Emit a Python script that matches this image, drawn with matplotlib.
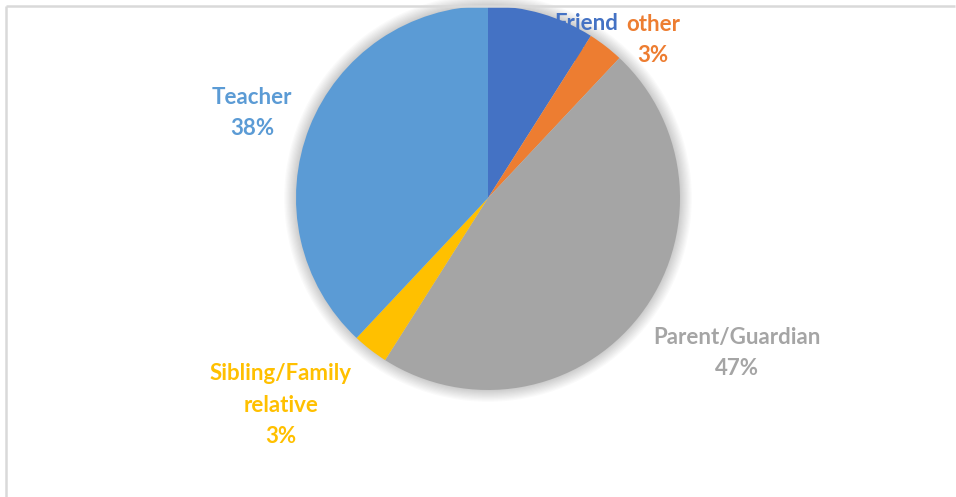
import matplotlib.pyplot as plt
import numpy as np
from matplotlib.patches import Circle

plt.rcParams['font.family'] = ['Lato', 'DejaVu Sans']

# 饼图数据（顺时针，从12点方向开始）
categories = ['Friend', 'other', 'Parent/Guardian', 'Sibling/Family\nrelative', 'Teacher']
shares = [9, 3, 47, 3, 38]
colors = ['#4472C4', '#ED7D31', '#A5A5A5', '#FFC000', '#5B9BD5']

# 标签中心位置（像素坐标，原点在左上角）
label_pos = [(586, 39), (653, 40), (737, 353), (281, 405), (252, 113)]

W, H = 956, 497
fig = plt.figure(figsize=(W / 100, H / 100), dpi=100)
ax = fig.add_axes([0, 0, 1, 1])

cx, cy, r = 488, H - 198, 192

# 柔和阴影
for i in range(10):
    ax.add_patch(Circle((cx, cy), r + 1 + i * 1.2, color='black', alpha=0.018, lw=0, zorder=1))

ax.pie(shares, colors=colors, startangle=90, counterclock=False,
       center=(cx, cy), radius=r, frame=True,
       wedgeprops=dict(linewidth=0, zorder=3))
ax.set_xlim(0, W)
ax.set_ylim(0, H)
ax.set_aspect('equal')
ax.axis('off')

# 数据标签（类别 + 百分比）
for name, val, col, (x, y) in zip(categories, shares, colors, label_pos):
    ax.text(x, H - y, f'{name}\n{val}%', color=col, fontsize=16, fontweight='bold',
            ha='center', va='center', linespacing=1.6, zorder=2)

# 图表边框（仅顶部和左侧可见）
ax.plot([6, 955], [H - 5.5, H - 5.5], color='#d9d9d9', lw=1.8, zorder=5, solid_capstyle='butt')
ax.plot([6.5, 6.5], [0, H - 5.5], color='#d9d9d9', lw=1.8, zorder=5, solid_capstyle='butt')

fig.savefig('out.png', dpi=100)
